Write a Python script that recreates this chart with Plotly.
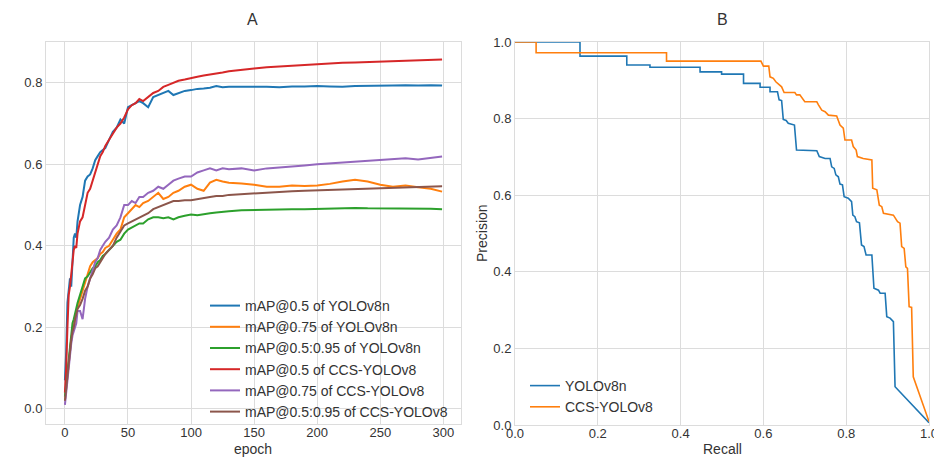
import plotly.graph_objects as go

# ---------------- Data: panel A (training curves) ----------------
epochs = [0, 1, 2, 3, 4, 5, 6, 7, 8, 9, 10, 12, 14, 16, 18, 20, 22, 24, 26, 28, 30, 32,
          35, 38, 41, 44, 47, 50, 53, 56, 59, 62, 66, 70, 74, 78, 82, 86, 90, 95, 100,
          105, 110, 115, 120, 125, 130, 140, 150, 160, 170, 180, 190, 200, 210, 220,
          230, 240, 250, 260, 270, 280, 290, 299]

map50_v8n = [0.07, 0.14, 0.26, 0.30, 0.32, 0.30, 0.36, 0.42, 0.43, 0.42, 0.46, 0.50, 0.52,
             0.56, 0.57, 0.575, 0.59, 0.61, 0.62, 0.63, 0.635, 0.64, 0.66, 0.68, 0.69, 0.71,
             0.70, 0.74, 0.745, 0.75, 0.755, 0.75, 0.74, 0.765, 0.77, 0.775, 0.78, 0.77,
             0.775, 0.78, 0.782, 0.785, 0.786, 0.788, 0.792, 0.789, 0.79, 0.79, 0.791, 0.79,
             0.789, 0.791, 0.791, 0.792, 0.791, 0.79, 0.792, 0.792, 0.793, 0.793, 0.794,
             0.793, 0.794, 0.793]

map75_v8n = [0.02, 0.05, 0.09, 0.12, 0.15, 0.17, 0.19, 0.20, 0.22, 0.24, 0.25, 0.27, 0.29,
             0.31, 0.33, 0.35, 0.36, 0.365, 0.37, 0.38, 0.385, 0.395, 0.40, 0.415, 0.43,
             0.44, 0.47, 0.48, 0.49, 0.50, 0.495, 0.505, 0.51, 0.52, 0.53, 0.515, 0.52,
             0.53, 0.535, 0.545, 0.55, 0.54, 0.535, 0.555, 0.562, 0.558, 0.555, 0.553,
             0.55, 0.545, 0.545, 0.548, 0.547, 0.548, 0.552, 0.558, 0.562, 0.558, 0.55,
             0.545, 0.548, 0.544, 0.54, 0.533]

map5095_v8n = [0.03, 0.06, 0.10, 0.13, 0.16, 0.19, 0.21, 0.22, 0.235, 0.25, 0.26, 0.28,
               0.30, 0.32, 0.325, 0.335, 0.345, 0.35, 0.36, 0.365, 0.375, 0.38, 0.39, 0.40,
               0.41, 0.415, 0.43, 0.44, 0.445, 0.45, 0.455, 0.455, 0.465, 0.47, 0.47, 0.468,
               0.47, 0.465, 0.47, 0.474, 0.477, 0.475, 0.478, 0.48, 0.482, 0.484, 0.485,
               0.487, 0.488, 0.489, 0.489, 0.49, 0.49, 0.491, 0.491, 0.492, 0.493, 0.492,
               0.492, 0.492, 0.492, 0.491, 0.491, 0.49]

map50_ccs = [0.04, 0.10, 0.20, 0.28, 0.30, 0.33, 0.37, 0.39, 0.40, 0.395, 0.43, 0.46, 0.47,
             0.50, 0.53, 0.54, 0.56, 0.58, 0.60, 0.62, 0.63, 0.645, 0.66, 0.675, 0.69, 0.70,
             0.715, 0.735, 0.745, 0.75, 0.76, 0.755, 0.765, 0.775, 0.78, 0.79, 0.795, 0.80,
             0.805, 0.808, 0.812, 0.815, 0.818, 0.82, 0.822, 0.825, 0.828, 0.832, 0.835,
             0.838, 0.84, 0.842, 0.844, 0.846, 0.848, 0.849, 0.85, 0.851, 0.852, 0.853,
             0.854, 0.855, 0.856, 0.857]

map75_ccs = [0.01, 0.04, 0.08, 0.11, 0.14, 0.16, 0.18, 0.19, 0.20, 0.21, 0.24, 0.24, 0.22,
             0.27, 0.30, 0.32, 0.34, 0.36, 0.37, 0.39, 0.40, 0.41, 0.42, 0.44, 0.45, 0.47,
             0.50, 0.50, 0.51, 0.505, 0.52, 0.52, 0.53, 0.535, 0.545, 0.54, 0.55, 0.56,
             0.565, 0.57, 0.57, 0.58, 0.585, 0.59, 0.585, 0.59, 0.588, 0.59, 0.585, 0.59,
             0.592, 0.594, 0.597, 0.60, 0.602, 0.604, 0.607, 0.608, 0.61, 0.613, 0.615,
             0.612, 0.616, 0.619]

map5095_ccs = [0.02, 0.05, 0.09, 0.12, 0.15, 0.17, 0.19, 0.20, 0.22, 0.235, 0.245, 0.255,
               0.27, 0.29, 0.30, 0.32, 0.33, 0.345, 0.35, 0.36, 0.37, 0.38, 0.39, 0.40,
               0.42, 0.435, 0.45, 0.455, 0.46, 0.465, 0.47, 0.475, 0.48, 0.49, 0.495, 0.50,
               0.505, 0.51, 0.51, 0.512, 0.512, 0.515, 0.518, 0.52, 0.522, 0.522, 0.525,
               0.527, 0.529, 0.53, 0.532, 0.534, 0.535, 0.536, 0.537, 0.538, 0.54, 0.541,
               0.542, 0.543, 0.544, 0.545, 0.546, 0.546]

series_a = [
    ("mAP@0.5 of YOLOv8n", map50_v8n, "#1f77b4"),
    ("mAP@0.75 of YOLOv8n", map75_v8n, "#ff7f0e"),
    ("mAP@0.5:0.95 of YOLOv8n", map5095_v8n, "#2ca02c"),
    ("mAP@0.5 of CCS-YOLOv8", map50_ccs, "#d62728"),
    ("mAP@0.75 of CCS-YOLOv8", map75_ccs, "#9467bd"),
    ("mAP@0.5:0.95 of CCS-YOLOv8", map5095_ccs, "#8c564b"),
]

# ---------------- Data: panel B (PR curves) ----------------
recall_v8n = [0, 0.157, 0.157, 0.270, 0.270, 0.326, 0.326, 0.447, 0.447, 0.499,
              0.499, 0.552, 0.552, 0.592, 0.592, 0.616, 0.616, 0.634, 0.638, 0.644,
              0.648, 0.655, 0.660, 0.675, 0.680, 0.729, 0.735, 0.749, 0.761, 0.765,
              0.771, 0.775, 0.781, 0.785, 0.791, 0.795, 0.805, 0.813, 0.816, 0.821,
              0.825, 0.832, 0.837, 0.843, 0.848, 0.862, 0.867, 0.878, 0.882, 0.894,
              0.898, 0.906, 0.914, 0.918, 1.0]
precision_v8n = [1.0, 1.0, 0.963, 0.963, 0.94, 0.94, 0.934, 0.934, 0.922, 0.922,
                 0.916, 0.916, 0.892, 0.892, 0.882, 0.882, 0.870, 0.870, 0.849, 0.847,
                 0.798, 0.795, 0.788, 0.783, 0.718, 0.716, 0.701, 0.696, 0.696, 0.674,
                 0.670, 0.653, 0.648, 0.629, 0.627, 0.596, 0.592, 0.583, 0.548, 0.544,
                 0.531, 0.528, 0.470, 0.466, 0.444, 0.444, 0.357, 0.352, 0.344, 0.344,
                 0.283, 0.279, 0.270, 0.100, 0.006]

recall_ccs = [0, 0.051, 0.051, 0.366, 0.366, 0.594, 0.600, 0.613, 0.616, 0.624,
              0.630, 0.638, 0.644, 0.650, 0.676, 0.680, 0.688, 0.700, 0.729, 0.733,
              0.741, 0.749, 0.757, 0.777, 0.785, 0.793, 0.797, 0.813, 0.817, 0.824,
              0.827, 0.841, 0.862, 0.864, 0.874, 0.880, 0.886, 0.890, 0.914, 0.924,
              0.930, 0.934, 0.940, 0.944, 0.948, 0.952, 0.958, 0.962, 1.0]
precision_ccs = [1.0, 1.0, 0.972, 0.972, 0.95, 0.95, 0.937, 0.937, 0.909, 0.905,
                 0.896, 0.888, 0.883, 0.868, 0.868, 0.862, 0.862, 0.844, 0.844, 0.836,
                 0.822, 0.818, 0.809, 0.807, 0.783, 0.775, 0.744, 0.744, 0.727, 0.718,
                 0.701, 0.696, 0.692, 0.618, 0.614, 0.574, 0.570, 0.553, 0.548, 0.531,
                 0.527, 0.466, 0.461, 0.413, 0.409, 0.309, 0.307, 0.126, 0.009]

series_b = [
    ("YOLOv8n", recall_v8n, precision_v8n, "#1f77b4"),
    ("CCS-YOLOv8", recall_ccs, precision_ccs, "#ff7f0e"),
]

# The page body has an 8px margin, so the figure is sized to fit the window after it.
OFF = 8
WIN_W, WIN_H = 942, 457
W, H = WIN_W - OFF, WIN_H - OFF
FONT = "Liberation Sans, Arial, sans-serif"
GRID = "#dcdcdc"
TXT = "#333333"

fig = go.Figure()
for name, vals, col in series_a:
    fig.add_trace(go.Scatter(x=epochs, y=vals, mode="lines", name=name,
                             line=dict(color=col, width=2), xaxis="x", yaxis="y",
                             legend="legend"))
for name, r, p, col in series_b:
    fig.add_trace(go.Scatter(x=r, y=p, mode="lines", name=name,
                             line=dict(color=col, width=1.6), xaxis="x2", yaxis="y2",
                             legend="legend2"))

def px_x(v):
    return (v - OFF) / W

def px_y(v):
    return (WIN_H - v) / H

axis_common = dict(showgrid=True, gridcolor=GRID, gridwidth=1, zeroline=False,
                   showline=True, linecolor=GRID, linewidth=1, mirror=True,
                   automargin=False, ticks="",
                   tickfont=dict(family=FONT, size=13, color=TXT),
                   tickformat=".1f")
xaxis_extra = dict(ticklabelstandoff=-4)

def label(text, x, y, size=14, angle=0):
    return dict(text=text, x=px_x(x), y=px_y(y), xref="paper", yref="paper",
                xanchor="center", yanchor="middle", showarrow=False,
                textangle=angle, font=dict(family=FONT, size=size, color=TXT))

fig.update_layout(
    width=W, height=H,
    margin=dict(l=0, r=0, t=0, b=0, autoexpand=False),
    paper_bgcolor="white", plot_bgcolor="white",
    font=dict(family=FONT, size=13, color=TXT),
    xaxis=dict(axis_common, **xaxis_extra, domain=[px_x(46), px_x(461)],
               range=[-15, 314], tickvals=[0, 50, 100, 150, 200, 250, 300],
               tickformat="d", anchor="y"),
    yaxis=dict(axis_common, domain=[px_y(424), px_y(42)], range=[-0.037, 0.90],
               dtick=0.2, tick0=0, anchor="x"),
    xaxis2=dict(axis_common, **xaxis_extra, domain=[px_x(515), px_x(929)],
                range=[0, 1], dtick=0.2, tick0=0, anchor="y2"),
    yaxis2=dict(axis_common, domain=[px_y(425), px_y(42)], range=[0, 1],
                dtick=0.2, tick0=0, anchor="x2"),
    legend=dict(x=px_x(205), y=px_y(290), xanchor="left", yanchor="top",
                bgcolor="rgba(0,0,0,0)", font=dict(family=FONT, size=14, color=TXT),
                tracegroupgap=0),
    legend2=dict(x=px_x(525), y=px_y(370), xanchor="left", yanchor="top",
                 bgcolor="rgba(0,0,0,0)", font=dict(family=FONT, size=14, color=TXT)),
    showlegend=True,
    annotations=[
        label("A", 253, 20, size=16),
        label("B", 722, 20, size=16),
        label("epoch", 253, 449),
        label("Recall", 722, 449),
        label("Precision", 482, 233, angle=-90),
    ],
)

fig.write_html("out.html")
